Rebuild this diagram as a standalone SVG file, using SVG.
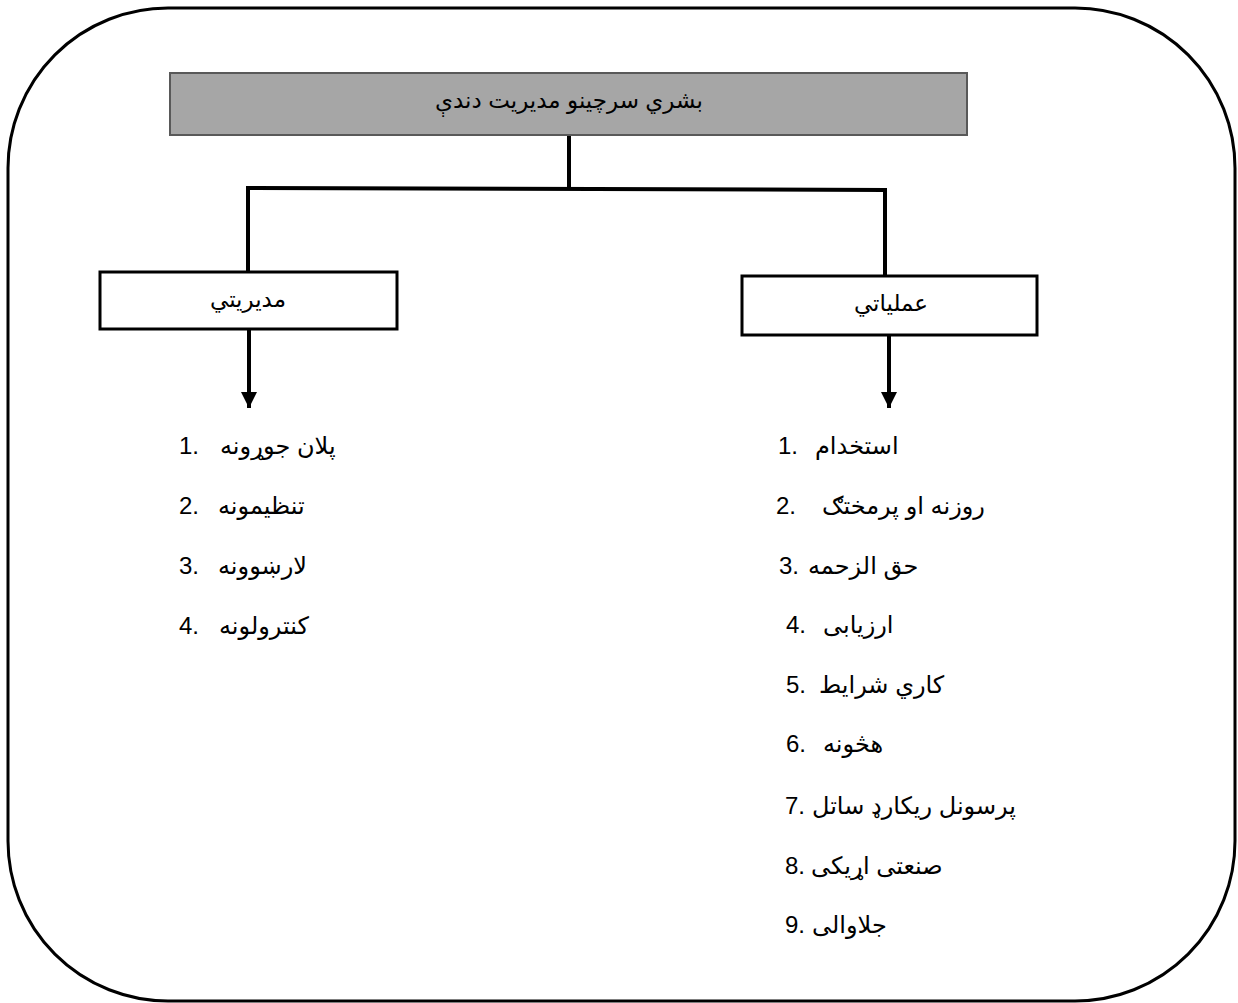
<svg xmlns="http://www.w3.org/2000/svg" width="1238" height="1003" viewBox="0 0 1238 1003">
<defs>
<style>
.frame{fill:none;stroke:#000;stroke-width:3}
.box{fill:#fff;stroke:#000;stroke-width:3}
.title{fill:#a6a6a6;stroke:#595959;stroke-width:2}
.ln{fill:none;stroke:#000;stroke-width:4}
.ar{font-family:"Liberation Sans","DejaVu Sans",sans-serif;font-size:23px;fill:#000}
.li{font-size:24px}
.num{font-family:"Liberation Sans",Arial,sans-serif;font-size:24px;fill:#000}
</style>
<marker id="ah" viewBox="0 0 10 10" refX="10" refY="5" markerWidth="4" markerHeight="4" markerUnits="strokeWidth" orient="auto">
<path d="M0,0 L10,5 L0,10 Z" fill="#000"/>
</marker>
</defs>
<rect width="1238" height="1003" fill="#fff"/>
<rect id="frame" class="frame" x="8" y="8" width="1227" height="993" rx="160" ry="160"/>
<g id="connectors">
<line class="ln" x1="569" y1="134" x2="569" y2="188"/>
<polyline class="ln" points="248,272 248,188 885,190 885,276"/>
<line class="ln" x1="249" y1="330" x2="249" y2="408" marker-end="url(#ah)"/>
<line class="ln" x1="889" y1="336" x2="889" y2="408" marker-end="url(#ah)"/>
</g>
<g id="n-title">
<rect class="title" x="170" y="73" width="797" height="62"/>
<text class="ar" x="569" y="108" text-anchor="middle">بشري سرچينو مديريت دندې</text>
</g>
<g id="n-modiriati">
<rect class="box" x="100" y="272" width="297" height="57"/>
<text class="ar" x="248" y="307" text-anchor="middle">مديريتي</text>
</g>
<g id="n-amaliati">
<rect class="box" x="742" y="276" width="295" height="59"/>
<text class="ar" x="891" y="311" text-anchor="middle">عملياتي</text>
</g>
<g id="list-left">
<text class="num" x="179" y="454">1.</text><text class="ar li" x="220" y="454">پلان جوړونه</text>
<text class="num" x="179" y="514">2.</text><text class="ar li" x="218" y="514">تنظيمونه</text>
<text class="num" x="179" y="574">3.</text><text class="ar li" x="218" y="574">لارښوونه</text>
<text class="num" x="179" y="634">4.</text><text class="ar li" x="219" y="634">كنترولونه</text>
</g>
<g id="list-right">
<text class="num" x="778" y="454">1.</text><text class="ar li" x="815" y="454">استخدام</text>
<text class="num" x="776" y="514">2.</text><text class="ar li" x="822" y="514">روزنه او پرمختګ</text>
<text class="num" x="779" y="574">3.</text><text class="ar li" x="808" y="574">حق الزحمه</text>
<text class="num" x="786" y="633">4.</text><text class="ar li" x="823" y="633">ارزيابی</text>
<text class="num" x="786" y="693">5.</text><text class="ar li" x="819" y="693">كاري شرايط</text>
<text class="num" x="786" y="752">6.</text><text class="ar li" x="823" y="752">هڅونه</text>
<text class="num" x="785" y="814">7.</text><text class="ar li" x="812" y="814">پرسونل ريكارډ ساتل</text>
<text class="num" x="785" y="874">8.</text><text class="ar li" x="811" y="874">صنعتی اړيکی</text>
<text class="num" x="785" y="933">9.</text><text class="ar li" x="812" y="933">جلاوالی</text>
</g>
</svg>
